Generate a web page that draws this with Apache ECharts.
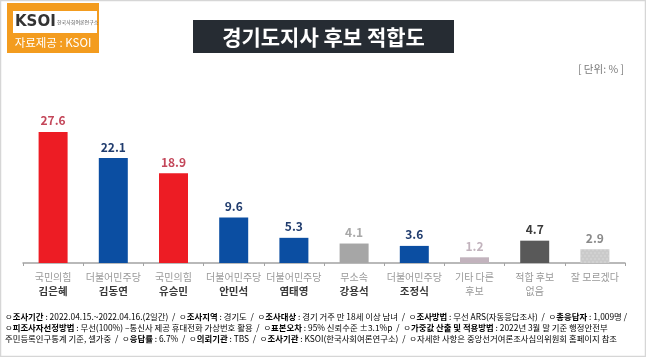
<!DOCTYPE html>
<html>
<head>
<meta charset="utf-8">
<script src="https://cdn.jsdelivr.net/npm/echarts@6/dist/echarts.min.js"></script>
<style>
html,body{margin:0;padding:0;background:#fff;}
#c{width:646px;height:357px;}
</style>
</head>
<body>
<div id="c"></div>
<script>
// ---- data ----
const parties = ['국민의힘','더불어민주당','국민의힘','더불어민주당','더불어민주당','무소속','더불어민주당','기타 다른','적합 후보','잘 모르겠다'];
const names = ['김은혜','김동연','유승민','안민석','염태영','강용석','조정식','후보','없음',''];
const values = [27.6, 22.1, 18.9, 9.6, 5.3, 4.1, 3.6, 1.2, 4.7, 2.9];
const titleText = '경기도지사 후보 적합도';
const unitText = '[ 단위: % ]';

// ---- styles ----
const barColors = ['#ed1c24','#0b4ea2','#ed1c24','#0b4ea2','#0b4ea2','#a6a6a6','#0b4ea2','#c2b3bd','#595959','#cacaca'];
const labelColors = ['#c4475a','#203c6e','#c4475a','#203c6e','#203c6e','#a8a8a8','#203c6e','#c2b3bd','#3a3a3a','#8a8a8a'];
const FONT = '"Noto Sans CJK KR", "Noto Sans", sans-serif';

const chart = echarts.init(document.getElementById('c'), null, {renderer:'canvas'});

const dataItems = values.map((v,i)=>{
  const item = {value:v, itemStyle:{color:barColors[i]}, label:{color:labelColors[i]}};
  if (i === 9) {
    item.itemStyle.decal = {symbol:'rect', symbolSize:0.6, color:'rgba(255,255,255,0.45)', dashArrayX:[[2,2],[0,2,2,0]], dashArrayY:[2,1], rotation:0};
  }
  return item;
});

const K = {fontFamily:FONT, fontSize:8.4, fontWeight:'bold', color:'#7a7a7a'};
const V = {fontFamily:FONT, fontSize:8.4, color:'#9a9a9a'};

const footer1 = '{v|ㅇ}{k|조사기간}{v| : 2022.04.15.~2022.04.16.(2일간)  /  ㅇ}{k|조사지역}{v| : 경기도  /  ㅇ}{k|조사대상}{v| : 경기 거주 만 18세 이상 남녀  /  ㅇ}{k|조사방법}{v| : 무선 ARS(자동응답조사)  /  ㅇ}{k|총응답자}{v| : 1,009명 /}';
const footer2 = '{v|ㅇ}{k|피조사자선정방법}{v| : 무선(100%) –통신사 제공 휴대전화 가상번호 활용  /  ㅇ}{k|표본오차}{v| : 95% 신뢰수준 ±3.1%p  /  ㅇ}{k|가중값 산출 및 적용방법}{v| : 2022년 3월 말 기준 행정안전부}';
const footer3 = '{v|주민등록인구통계 기준, 셀가중  /  ㅇ}{k|응답률}{v| : 6.7%  /  ㅇ}{k|의뢰기관}{v| : TBS  /  ㅇ}{k|조사기관}{v| : KSOI(한국사회여론연구소)  /  ㅇ자세한 사항은 중앙선거여론조사심의위원회 홈페이지 참조}';

chart.setOption({
  animation:false,
  backgroundColor:'#ffffff',
  grid:{left:23, right:21, top:120.5, bottom:94, containLabel:false},
  xAxis:{
    type:'category',
    data:parties.map((p,i)=>i),
    axisLine:{lineStyle:{color:'#a3a3a3', width:1.5}},
    axisTick:{show:true, length:3, lineStyle:{color:'#a3a3a3'}},
    axisLabel:{
      interval:0, margin:7,
      formatter:(val)=>{
        const i = +val;
        if (!names[i]) return '{p|'+parties[i]+'}';
        return '{p|'+parties[i]+'}\n' + (i < 7 ? '{n|'+names[i]+'}' : '{p|'+names[i]+'}');
      },
      rich:{
        p:{fontFamily:FONT, fontSize:10, color:'#999999', lineHeight:14},
        n:{fontFamily:FONT, fontSize:10.5, fontWeight:'bold', color:'#3a3a3a', lineHeight:14}
      }
    }
  },
  yAxis:{type:'value', min:0, max:30, show:false, splitLine:{show:false}},
  series:[{
    type:'bar',
    data:dataItems,
    barWidth:29,
    label:{show:true, position:'top', distance:5, fontFamily:FONT, fontSize:12, fontWeight:'bold'}
  }],
  graphic:[
    {type:'rect', shape:{x:0.5,y:0.5,width:645,height:356}, style:{fill:'none', stroke:'#d6d6d6', lineWidth:1.5}, silent:true},
    // logo
    {type:'rect', shape:{x:7,y:3,width:92,height:50}, style:{fill:'#f39c1f'}},
    {type:'rect', shape:{x:13,y:11,width:84,height:22}, style:{fill:'#ffffff'}},
    {type:'text', x:15, y:22, style:{text:'KSOI', fontFamily:'"DejaVu Sans", sans-serif', fontSize:15, fontWeight:'bold', fill:'#333', verticalAlign:'middle'}},
    {type:'text', x:57, y:22, style:{text:'한국사회여론연구소', fontFamily:FONT, fontSize:5, fill:'#555', verticalAlign:'middle'}},
    {type:'text', x:53, y:43, style:{text:'자료제공 : KSOI', fontFamily:FONT, fontSize:11.5, fill:'#ffffff', align:'center', verticalAlign:'middle'}},
    // title
    {type:'rect', shape:{x:193,y:20,width:261,height:33}, style:{fill:'#262c33'}},
    {type:'text', x:323.5, y:37, style:{text:titleText, fontFamily:FONT, fontSize:21, fontWeight:'bold', fill:'#ffffff', align:'center', verticalAlign:'middle'}},
    // unit
    {type:'text', x:624, y:69, style:{text:unitText, fontFamily:FONT, fontSize:10.5, fill:'#7a7a7a', align:'right', verticalAlign:'middle'}},
    // footer
    {type:'text', x:5, y:313, style:{text:footer1, rich:{k:K, v:V}, verticalAlign:'top'}},
    {type:'text', x:5, y:323.5, style:{text:footer2, rich:{k:K, v:V}, verticalAlign:'top'}},
    {type:'text', x:5, y:334.5, style:{text:footer3, rich:{k:K, v:V}, verticalAlign:'top'}}
  ]
});
</script>
</body>
</html>
